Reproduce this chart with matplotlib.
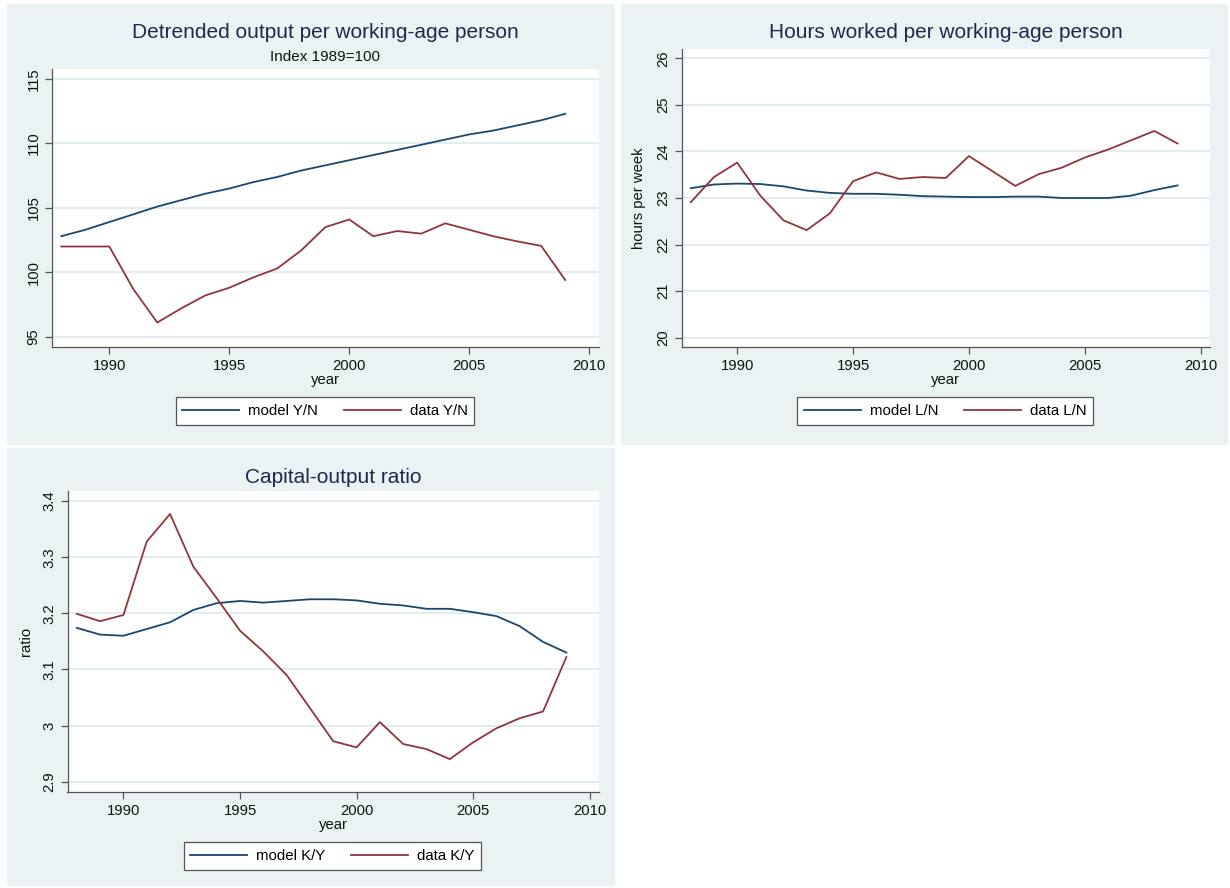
import matplotlib
matplotlib.use("Agg")
import matplotlib.pyplot as plt
from matplotlib.patches import Rectangle

# ==============================
# Data
# ==============================
years = list(range(1988, 2010))

model_yn = [102.8, 103.3, 103.9, 104.5, 105.1, 105.6, 106.1, 106.5, 107.0, 107.4, 107.9,
            108.3, 108.7, 109.1, 109.5, 109.9, 110.3, 110.7, 111.0, 111.4, 111.8, 112.3]
data_yn = [102.0, 102.0, 102.0, 98.7, 96.1, 97.2, 98.2, 98.8, 99.6, 100.3, 101.7,
           103.5, 104.1, 102.8, 103.2, 103.0, 103.8, 103.3, 102.8, 102.4, 102.05, 99.4]

model_ln = [23.21, 23.29, 23.31, 23.30, 23.25, 23.16, 23.11, 23.09, 23.09, 23.07, 23.04,
            23.03, 23.02, 23.02, 23.03, 23.03, 23.00, 23.00, 23.00, 23.05, 23.17, 23.27]
data_ln = [22.91, 23.45, 23.76, 23.05, 22.52, 22.31, 22.67, 23.36, 23.55, 23.41, 23.45,
           23.43, 23.90, 23.58, 23.26, 23.51, 23.65, 23.87, 24.04, 24.24, 24.44, 24.17]

model_ky = [3.174, 3.162, 3.160, 3.172, 3.184, 3.206, 3.218, 3.222, 3.219, 3.222, 3.225,
            3.225, 3.223, 3.217, 3.214, 3.208, 3.208, 3.202, 3.195, 3.177, 3.149, 3.130]
data_ky = [3.199, 3.186, 3.197, 3.328, 3.377, 3.283, 3.227, 3.169, 3.132, 3.090, 3.031,
           2.972, 2.961, 3.006, 2.967, 2.958, 2.940, 2.970, 2.995, 3.013, 3.025, 3.122]

x_ticks = [1990, 1995, 2000, 2005, 2010]

# ==============================
# Style
# ==============================
plt.rcParams['font.family'] = ['Liberation Sans', 'DejaVu Sans']
NAVY = '#1a476f'
MAROON = '#90353b'
PANEL_BG = '#eaf2f3'
GRID = '#e3ecee'
TITLE_C = '#1c2b4c'
W, H = 1230, 888

fig = plt.figure(figsize=(12.3, 8.88), dpi=100)
fig.patch.set_facecolor('white')


def fig_rect(x0, y0, x1, y1):
    # pixel box (top-left origin) -> figure fraction
    return [x0 / W, 1 - y1 / H, (x1 - x0) / W, (y1 - y0) / H]


# panel backgrounds (drawn under the axes)
for x0, y0, x1, y1 in [(7, 4, 615, 445.5), (621, 4, 1228, 445.5), (7, 448, 615, 886)]:
    l, b, w, h = fig_rect(x0, y0, x1, y1)
    fig.patches.append(Rectangle((l, b), w, h, transform=fig.transFigure,
                                 facecolor=PANEL_BG, edgecolor='none', zorder=-10))


def make_panel(box, model, data, labels, ylim, yticks, ylabel, title, subtitle,
               title_y, legend_box, ylabel_x=None):
    ax = fig.add_axes(fig_rect(*box))
    ax.set_facecolor('white')
    ax.plot(years, model, color=NAVY, lw=1.3, label=labels[0])
    ax.plot(years, data, color=MAROON, lw=1.3, label=labels[1])
    ax.set_xlim(1987.6, 2010.4)
    ax.set_ylim(*ylim)
    ax.set_xticks(x_ticks)
    ax.set_yticks(yticks)
    ax.set_yticklabels([f"{t:g}" for t in yticks], rotation=90, va='center')
    ax.tick_params(axis='both', labelsize=10.7, color='#555555', length=5, width=0.9,
                   direction='out', labelcolor='#111111')
    ax.tick_params(axis='y', pad=3)
    ax.grid(axis='y', color=GRID, lw=1.5)
    ax.set_axisbelow(True)
    for s in ['top', 'right']:
        ax.spines[s].set_visible(False)
    for s in ['left', 'bottom']:
        ax.spines[s].set_color('#555555')
        ax.spines[s].set_linewidth(0.9)
    ax.set_xlabel('year', fontsize=10.7, labelpad=0, color='#111111')
    if ylabel:
        ax.set_ylabel(ylabel, fontsize=10.7, color='#111111')
        if ylabel_x is not None:
            ax.yaxis.set_label_coords((ylabel_x - box[0]) / (box[2] - box[0]), 0.5)
    cx = (box[0] + box[2]) / 2 / W
    fig.text(cx, 1 - title_y / H, title, ha='center', va='center', fontsize=15,
             color=TITLE_C)
    if subtitle:
        fig.text(cx, 1 - 57 / H, subtitle, ha='center', va='center', fontsize=11,
                 color='#111111')
    lx0, ly0, lx1, ly1 = legend_box
    leg = ax.legend(loc='center', bbox_to_anchor=((lx0 + lx1) / 2 / W, 1 - (ly0 + ly1) / 2 / H),
                    bbox_transform=fig.transFigure, ncol=2, fontsize=10.8, frameon=True,
                    fancybox=False, handlelength=3.8, handletextpad=0.6,
                    columnspacing=1.7, borderpad=0.45, framealpha=1)
    leg.get_frame().set_edgecolor('#555555')
    leg.get_frame().set_linewidth(0.9)
    return ax


make_panel((51.7, 69, 598.8, 347), model_yn, data_yn, ['model Y/N', 'data Y/N'],
           (94.2, 115.78), [95, 100, 105, 110, 115], None,
           'Detrended output per working-age person', 'Index 1989=100', 33,
           (173, 397, 477, 425))

make_panel((681.5, 49, 1210, 347), model_ln, data_ln, ['model L/N', 'data L/N'],
           (19.8, 26.2), [20, 21, 22, 23, 24, 25, 26], 'hours per week',
           'Hours worked per working-age person', None, 33,
           (795, 397, 1095, 425), ylabel_x=646.5)

make_panel((67.5, 491, 599, 791.7), model_ky, data_ky, ['model K/Y', 'data K/Y'],
           (2.882, 3.418), [2.9, 3.0, 3.1, 3.2, 3.3, 3.4], 'ratio',
           'Capital-output ratio', None, 477,
           (181, 842, 484, 870), ylabel_x=33)

plt.savefig('out.png', dpi=100, facecolor=fig.get_facecolor())
